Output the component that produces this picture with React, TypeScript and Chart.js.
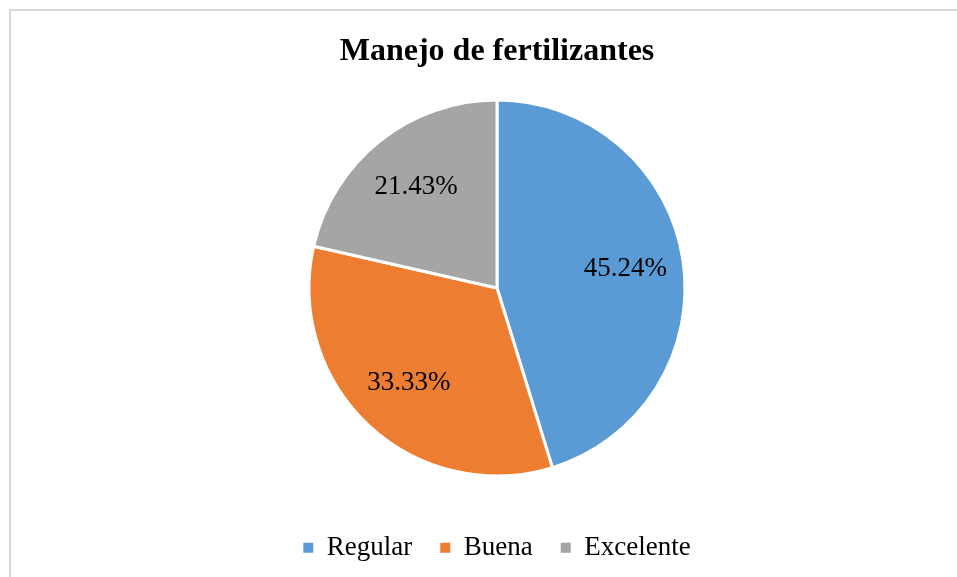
import React, { useEffect, useRef } from "react";
import { Chart, registerables } from "chart.js";

Chart.register(...registerables);

const title = "Manejo de fertilizantes";
const categories = ["Regular", "Buena", "Excelente"];
const values = [45.24, 33.33, 21.43];
const colors = ["#5B9BD5", "#ED7D31", "#A5A5A5"];

const FONT = "'Liberation Serif', 'Times New Roman', serif";

const pctLabels = {
  id: "pctLabels",
  afterDatasetsDraw(chart: any) {
    const ctx = chart.ctx;
    const meta = chart.getDatasetMeta(0);
    const data = chart.data.datasets[0].data as number[];
    ctx.save();
    ctx.font = `27px ${FONT}`;
    ctx.fillStyle = "#000000";
    ctx.textAlign = "center";
    ctx.textBaseline = "middle";
    meta.data.forEach((arc: any, i: number) => {
      const { x, y, startAngle, endAngle, outerRadius } = arc.getProps(
        ["x", "y", "startAngle", "endAngle", "outerRadius"],
        true
      );
      const mid = (startAngle + endAngle) / 2;
      const r = outerRadius * 0.69;
      ctx.fillText(
        `${data[i].toFixed(2)}%`,
        x + Math.cos(mid) * r,
        y + Math.sin(mid) * r
      );
    });
    ctx.restore();
  },
};

export default function App() {
  const ref = useRef<HTMLCanvasElement | null>(null);

  useEffect(() => {
    if (!ref.current) return;
    const chart = new Chart(ref.current, {
      type: "pie",
      data: {
        labels: categories,
        datasets: [
          {
            data: values,
            backgroundColor: colors,
            borderColor: "#ffffff",
            borderWidth: 3,
            radius: 188,
          } as any,
        ],
      },
      options: {
        animation: false,
        responsive: false,
        layout: { padding: { left: 26, right: 0, top: 0, bottom: 5.7 } },
        plugins: {
          tooltip: { enabled: false },
          title: {
            display: true,
            text: title,
            color: "#000000",
            font: { family: FONT, size: 32, weight: "bold", lineHeight: 1.1 },
            padding: { top: 23.5, bottom: 0 },
          },
          legend: {
            display: true,
            position: "bottom",
            labels: {
              color: "#000000",
              font: { family: FONT, size: 27 },
              boxWidth: 10,
              boxHeight: 10,
              padding: 28,
              generateLabels: (c: any) =>
                (Chart as any).overrides.pie.plugins.legend.labels
                  .generateLabels(c)
                  .map((l: any) => ({ ...l, lineWidth: 0 })),
            },
          },
        },
      },
      plugins: [pctLabels],
    });
    return () => chart.destroy();
  }, []);

  return (
    <div
      style={{
        position: "fixed",
        top: 9,
        left: 9,
        width: 948,
        height: 568,
        boxSizing: "border-box",
        borderTop: "2px solid #d9d9d9",
        borderLeft: "2px solid #d9d9d9",
        overflow: "hidden",
      }}
    >
      <canvas
        ref={ref}
        width={946}
        height={566}
        style={{ display: "block", width: 946, height: 566 }}
      />
    </div>
  );
}
